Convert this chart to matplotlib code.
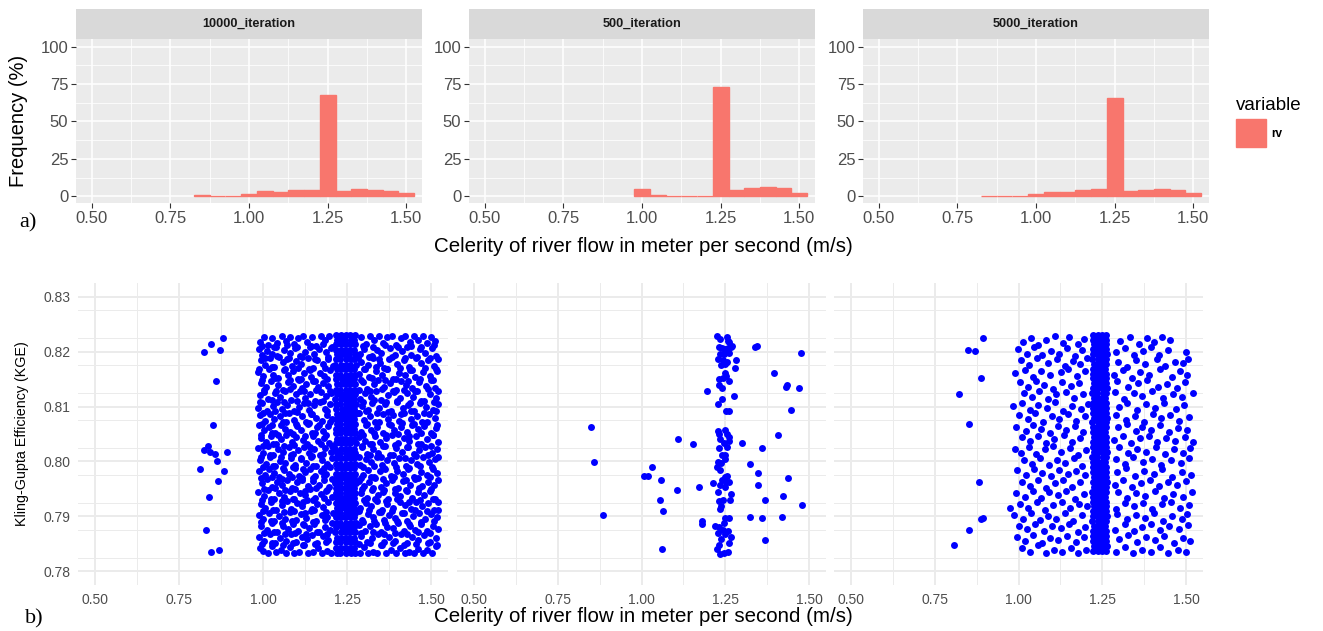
import matplotlib as mpl
import matplotlib.pyplot as plt
from matplotlib.patches import Patch

mpl.rcParams['font.family'] = ['Liberation Sans', 'DejaVu Sans']

# ------------------------------------------------------------------ #
# a) frequency (%) of celerity values per 0.05 m/s bin
bin_mid = [0.85, 0.90, 0.95, 1.00, 1.05, 1.10, 1.15, 1.20, 1.25, 1.30, 1.35, 1.40, 1.45, 1.50]
freq_10000 = [0.6, 0.3, 0.4, 1.4, 3.3, 3.0, 4.0, 4.4, 68.0, 3.3, 4.6, 4.0, 3.3, 2.0]
freq_500 = [0.0, 0.0, 0.0, 4.6, 1.1, 0.4, 0.4, 0.4, 73.0, 4.2, 5.3, 6.0, 5.3, 2.2]
freq_5000 = [0.5, 0.3, 0.4, 1.7, 3.1, 3.0, 4.0, 4.6, 66.0, 3.5, 4.2, 5.1, 4.0, 2.4]
facets = ['10000_iteration', '500_iteration', '5000_iteration']

# ------------------------------------------------------------------ #
# b) celerity (m/s) vs KGE for accepted runs

# 500 iterations: (celerity, KGE)
kge_500 = [
    (1.226, .8228), (1.233, .8223), (1.255, .8226), (1.258, .8220), (1.262, .8217), (1.270, .8211),
    (1.230, .8208), (1.240, .8207), (1.250, .8204), (1.258, .8206), (1.268, .8209), (1.233, .8196),
    (1.245, .8195), (1.260, .8197), (1.228, .8187), (1.243, .8184), (1.255, .8181), (1.282, .8184),
    (1.238, .8175), (1.250, .8177), (1.280, .8171), (1.248, .8162), (1.230, .8151), (1.242, .8152),
    (1.252, .8155), (1.262, .8146), (1.230, .8140), (1.240, .8133), (1.277, .8120), (1.240, .8113),
    (1.228, .8105), (1.252, .8091), (1.262, .8092), (1.195, .8128), (1.337, .8208), (1.345, .8211),
    (1.476, .8198), (1.395, .8161), (1.430, .8136), (1.435, .8139), (1.470, .8133), (1.445, .8094),
    (0.850, .8062), (0.858, .7999), (0.886, .7903), (1.110, .8040), (1.154, .8032), (1.032, .7990),
    (1.006, .7974), (1.018, .7974), (1.057, .7967), (1.107, .7948), (1.170, .7953), (1.054, .7929),
    (1.063, .7909), (1.062, .7841), (1.180, .7891), (1.180, .7886), (1.212, .7960),
    (1.228, .8056), (1.232, .8050), (1.250, .8057), (1.255, .8050), (1.260, .8045), (1.235, .8040),
    (1.262, .8038), (1.245, .8033), (1.230, .8025), (1.255, .8027), (1.240, .8012), (1.250, .8011),
    (1.228, .7999), (1.238, .7997), (1.248, .8004), (1.225, .7990), (1.233, .7984), (1.248, .7972),
    (1.255, .7974), (1.240, .7966), (1.252, .7963), (1.262, .7963), (1.235, .7958), (1.248, .7954),
    (1.228, .7945), (1.266, .7941), (1.242, .7930), (1.232, .7928), (1.265, .7930), (1.238, .7918),
    (1.233, .7913), (1.250, .7897), (1.262, .7897), (1.245, .7888), (1.218, .7883), (1.230, .7880),
    (1.242, .7876), (1.258, .7874), (1.228, .7870), (1.250, .7867), (1.266, .7863), (1.238, .7859),
    (1.260, .7851), (1.230, .7848), (1.226, .7841), (1.245, .7834), (1.258, .7836), (1.235, .7832),
    (1.300, .8034), (1.358, .8025), (1.406, .8048), (1.323, .7995), (1.346, .7979), (1.347, .7957),
    (1.438, .7970), (1.422, .7937), (1.368, .7930), (1.477, .7920), (1.322, .7898), (1.360, .7897),
    (1.420, .7898), (1.367, .7857),
]

# 10000 iterations: outliers left of the main cloud
kge_10000_low = [
    (0.881, .8224), (0.844, .8214), (0.825, .8199), (0.871, .8203), (0.861, .8147), (0.851, .8067),
    (0.837, .8029), (0.824, .8021), (0.842, .8018), (0.858, .8013), (0.894, .8017), (0.864, .8001),
    (0.812, .7987), (0.883, .7982), (0.866, .7964), (0.839, .7936), (0.830, .7876), (0.844, .7836),
    (0.868, .7838),
]

# 10000 iterations: main cloud (outside the 1.25 column)
kge_10000_cloud = [
    (0.992, .8218), (1.003, .8226), (1.015, .8212), (1.028, .8224), (1.041, .8215), (1.055, .8229), (1.067, .8219),
    (1.079, .8227), (1.092, .8213), (1.104, .8225), (1.118, .8228), (1.131, .8217), (1.146, .8226), (1.158, .8211),
    (1.171, .8229), (1.184, .8222), (1.197, .8228), (1.292, .8227), (1.305, .8214), (1.318, .8229), (1.331, .8221),
    (1.344, .8228), (1.357, .8216), (1.370, .8226), (1.384, .8229), (1.396, .8212), (1.409, .8224), (1.423, .8228),
    (1.436, .8218), (1.449, .8229), (1.462, .8222), (1.475, .8228), (1.488, .8215), (1.500, .8227), (1.512, .8220),
    (0.988, .8205), (0.997, .8193), (1.012, .8201), (1.026, .8196), (1.038, .8208), (1.049, .8191), (1.063, .8203),
    (1.081, .8197), (1.095, .8206), (1.109, .8192), (1.124, .8200), (1.139, .8209), (1.152, .8195), (1.166, .8204),
    (1.188, .8199), (1.201, .8207), (1.287, .8196), (1.299, .8205), (1.323, .8192), (1.339, .8203), (1.352, .8198),
    (1.377, .8207), (1.392, .8194), (1.414, .8201), (1.429, .8209), (1.441, .8193), (1.466, .8204), (1.481, .8197),
    (1.503, .8206), (1.515, .8192),
    (0.995, .8184), (1.007, .8176), (1.021, .8188), (1.034, .8172), (1.058, .8181), (1.071, .8187), (1.086, .8174),
    (1.099, .8183), (1.113, .8178), (1.135, .8189), (1.148, .8171), (1.162, .8185), (1.177, .8177), (1.193, .8186),
    (1.207, .8173), (1.291, .8182), (1.311, .8175), (1.327, .8188), (1.348, .8179), (1.361, .8171), (1.375, .8186),
    (1.398, .8177), (1.418, .8184), (1.433, .8172), (1.455, .8188), (1.471, .8179), (1.492, .8185), (1.508, .8174),
    (0.986, .8163), (1.001, .8155), (1.018, .8168), (1.031, .8158), (1.044, .8152), (1.061, .8166), (1.075, .8157),
    (1.090, .8164), (1.103, .8151), (1.121, .8161), (1.137, .8169), (1.144, .8154), (1.169, .8162), (1.182, .8156),
    (1.199, .8167), (1.284, .8159), (1.302, .8168), (1.316, .8153), (1.335, .8164), (1.354, .8157), (1.368, .8169),
    (1.386, .8151), (1.403, .8162), (1.421, .8158), (1.438, .8167), (1.452, .8153), (1.477, .8163), (1.495, .8156),
    (1.517, .8165),
    (0.993, .8142), (1.010, .8136), (1.024, .8147), (1.046, .8139), (1.059, .8131), (1.073, .8145), (1.088, .8137),
    (1.106, .8148), (1.117, .8133), (1.129, .8141), (1.150, .8146), (1.164, .8135), (1.179, .8143), (1.194, .8138),
    (1.296, .8144), (1.308, .8132), (1.329, .8141), (1.342, .8149), (1.359, .8136), (1.379, .8143), (1.394, .8131),
    (1.411, .8147), (1.426, .8139), (1.444, .8134), (1.463, .8145), (1.484, .8138), (1.499, .8149), (1.511, .8133),
    (0.990, .8121), (1.004, .8127), (1.016, .8113), (1.036, .8124), (1.052, .8118), (1.066, .8129), (1.083, .8112),
    (1.097, .8122), (1.111, .8128), (1.126, .8116), (1.141, .8123), (1.155, .8111), (1.173, .8126), (1.186, .8119),
    (1.203, .8125), (1.289, .8114), (1.304, .8124), (1.321, .8118), (1.337, .8129), (1.350, .8112), (1.372, .8121),
    (1.389, .8127), (1.407, .8115), (1.428, .8124), (1.446, .8117), (1.459, .8128), (1.479, .8111), (1.497, .8122),
    (1.514, .8116),
    (0.984, .8098), (0.998, .8106), (1.013, .8092), (1.029, .8101), (1.042, .8108), (1.057, .8095), (1.070, .8103),
    (1.093, .8091), (1.108, .8099), (1.122, .8107), (1.138, .8094), (1.151, .8102), (1.168, .8109), (1.183, .8096),
    (1.198, .8104), (1.294, .8101), (1.313, .8093), (1.325, .8107), (1.346, .8098), (1.362, .8104), (1.381, .8092),
    (1.399, .8109), (1.416, .8097), (1.431, .8103), (1.449, .8091), (1.468, .8106), (1.486, .8099), (1.504, .8094),
    (1.519, .8105),
    (0.991, .8084), (1.006, .8073), (1.020, .8087), (1.033, .8078), (1.050, .8082), (1.068, .8071), (1.078, .8088),
    (1.091, .8076), (1.115, .8083), (1.128, .8072), (1.143, .8086), (1.159, .8079), (1.174, .8074), (1.190, .8085),
    (1.206, .8077), (1.283, .8088), (1.300, .8075), (1.319, .8082), (1.333, .8071), (1.356, .8086), (1.371, .8078),
    (1.385, .8084), (1.404, .8073), (1.420, .8089), (1.440, .8077), (1.457, .8083), (1.473, .8072), (1.493, .8087),
    (1.510, .8079),
    (0.987, .8066), (1.002, .8058), (1.017, .8063), (1.037, .8052), (1.054, .8067), (1.064, .8059), (1.080, .8054),
    (1.101, .8064), (1.114, .8057), (1.133, .8068), (1.147, .8051), (1.160, .8062), (1.178, .8056), (1.192, .8065),
    (1.290, .8053), (1.306, .8066), (1.322, .8058), (1.340, .8063), (1.358, .8051), (1.374, .8069), (1.390, .8057),
    (1.410, .8062), (1.427, .8054), (1.443, .8067), (1.461, .8059), (1.480, .8064), (1.498, .8052), (1.513, .8061),
    (0.994, .8043), (1.009, .8036), (1.025, .8047), (1.039, .8031), (1.053, .8041), (1.069, .8048), (1.085, .8035),
    (1.098, .8044), (1.119, .8039), (1.132, .8032), (1.149, .8046), (1.163, .8037), (1.180, .8042), (1.196, .8033),
    (1.286, .8045), (1.303, .8038), (1.317, .8031), (1.334, .8047), (1.349, .8036), (1.366, .8042), (1.383, .8049),
    (1.401, .8034), (1.419, .8043), (1.435, .8037), (1.454, .8046), (1.470, .8032), (1.489, .8041), (1.506, .8048),
    (1.520, .8035),
    (0.985, .8024), (0.999, .8016), (1.014, .8028), (1.030, .8012), (1.045, .8022), (1.060, .8017), (1.076, .8026),
    (1.089, .8013), (1.105, .8021), (1.123, .8027), (1.136, .8015), (1.153, .8023), (1.170, .8011), (1.185, .8025),
    (1.202, .8018), (1.293, .8027), (1.310, .8014), (1.326, .8022), (1.343, .8016), (1.363, .8028), (1.378, .8012),
    (1.395, .8024), (1.413, .8018), (1.430, .8026), (1.448, .8013), (1.465, .8021), (1.483, .8027), (1.501, .8015),
    (1.516, .8023),
    (0.992, .8003), (1.008, .7995), (1.022, .8008), (1.035, .7991), (1.051, .8001), (1.065, .7997), (1.082, .8006),
    (1.096, .7993), (1.112, .8004), (1.127, .7998), (1.142, .8009), (1.157, .7992), (1.175, .8002), (1.189, .7996),
    (1.204, .8007), (1.288, .7994), (1.307, .8005), (1.320, .7999), (1.338, .8008), (1.353, .7993), (1.369, .8003),
    (1.388, .7997), (1.405, .8006), (1.424, .7991), (1.439, .8002), (1.458, .7995), (1.476, .8008), (1.494, .7999),
    (1.511, .8004),
    (0.989, .7982), (1.005, .7975), (1.019, .7987), (1.032, .7979), (1.048, .7972), (1.062, .7984), (1.077, .7977),
    (1.094, .7988), (1.107, .7973), (1.125, .7981), (1.140, .7986), (1.156, .7974), (1.172, .7983), (1.187, .7978),
    (1.200, .7989), (1.297, .7976), (1.312, .7985), (1.330, .7971), (1.347, .7982), (1.364, .7987), (1.380, .7974),
    (1.397, .7983), (1.415, .7978), (1.434, .7988), (1.450, .7972), (1.469, .7981), (1.487, .7976), (1.505, .7986),
    (1.518, .7979),
    (0.996, .7961), (1.011, .7968), (1.027, .7954), (1.043, .7963), (1.056, .7957), (1.072, .7966), (1.087, .7952),
    (1.102, .7962), (1.116, .7969), (1.134, .7955), (1.148, .7964), (1.165, .7958), (1.181, .7967), (1.195, .7953),
    (1.285, .7965), (1.301, .7956), (1.315, .7962), (1.332, .7969), (1.351, .7954), (1.367, .7961), (1.384, .7967),
    (1.400, .7952), (1.417, .7964), (1.437, .7957), (1.453, .7968), (1.472, .7955), (1.490, .7963), (1.507, .7958),
    (1.521, .7966),
    (0.986, .7944), (1.003, .7937), (1.016, .7948), (1.034, .7932), (1.047, .7942), (1.063, .7936), (1.079, .7947),
    (1.092, .7931), (1.110, .7943), (1.124, .7938), (1.139, .7949), (1.154, .7933), (1.171, .7941), (1.186, .7946),
    (1.205, .7935), (1.292, .7943), (1.309, .7934), (1.324, .7948), (1.341, .7939), (1.357, .7945), (1.373, .7931),
    (1.391, .7942), (1.408, .7937), (1.425, .7948), (1.442, .7933), (1.460, .7944), (1.478, .7938), (1.496, .7947),
    (1.512, .7932),
    (0.993, .7923), (1.007, .7916), (1.023, .7927), (1.040, .7912), (1.055, .7921), (1.070, .7928), (1.084, .7914),
    (1.100, .7924), (1.117, .7918), (1.131, .7929), (1.145, .7913), (1.161, .7922), (1.177, .7917), (1.193, .7926),
    (1.289, .7915), (1.305, .7925), (1.321, .7919), (1.339, .7928), (1.355, .7912), (1.370, .7923), (1.387, .7916),
    (1.406, .7927), (1.422, .7921), (1.440, .7914), (1.456, .7926), (1.474, .7918), (1.491, .7924), (1.509, .7911),
    (1.519, .7927),
    (0.988, .7902), (1.000, .7895), (1.018, .7907), (1.033, .7891), (1.049, .7901), (1.066, .7896), (1.080, .7908),
    (1.097, .7893), (1.113, .7904), (1.128, .7897), (1.144, .7909), (1.158, .7892), (1.176, .7903), (1.191, .7898),
    (1.207, .7906), (1.295, .7894), (1.311, .7905), (1.328, .7899), (1.345, .7908), (1.361, .7893), (1.376, .7903),
    (1.393, .7897), (1.412, .7906), (1.429, .7892), (1.447, .7901), (1.464, .7907), (1.482, .7895), (1.500, .7904),
    (1.516, .7898),
    (0.995, .7883), (1.012, .7876), (1.026, .7888), (1.041, .7872), (1.058, .7882), (1.073, .7877), (1.090, .7886),
    (1.104, .7873), (1.121, .7884), (1.137, .7879), (1.151, .7887), (1.167, .7871), (1.183, .7881), (1.198, .7876),
    (1.286, .7885), (1.303, .7874), (1.318, .7882), (1.336, .7887), (1.352, .7872), (1.368, .7881), (1.386, .7878),
    (1.402, .7888), (1.419, .7873), (1.436, .7883), (1.452, .7876), (1.470, .7887), (1.488, .7874), (1.504, .7882),
    (1.520, .7877),
    (0.987, .7862), (1.004, .7855), (1.020, .7867), (1.036, .7851), (1.052, .7861), (1.068, .7856), (1.083, .7868),
    (1.099, .7853), (1.115, .7863), (1.130, .7858), (1.146, .7866), (1.162, .7852), (1.179, .7864), (1.194, .7857),
    (1.291, .7865), (1.308, .7854), (1.325, .7861), (1.343, .7868), (1.359, .7853), (1.375, .7863), (1.392, .7856),
    (1.409, .7867), (1.427, .7852), (1.444, .7862), (1.462, .7857), (1.479, .7866), (1.497, .7853), (1.513, .7861),
    (0.991, .7843), (1.001, .7837), (1.014, .7834), (1.028, .7846), (1.039, .7835), (1.054, .7838), (1.067, .7833),
    (1.081, .7844), (1.093, .7834), (1.107, .7836), (1.120, .7848), (1.134, .7833), (1.148, .7835), (1.163, .7842),
    (1.176, .7834), (1.190, .7837), (1.203, .7833), (1.288, .7834), (1.299, .7845), (1.313, .7833), (1.327, .7836),
    (1.340, .7834), (1.353, .7847), (1.366, .7833), (1.380, .7838), (1.394, .7834), (1.407, .7843), (1.421, .7833),
    (1.434, .7836), (1.448, .7834), (1.461, .7841), (1.475, .7833), (1.489, .7838), (1.502, .7834), (1.515, .7846),
]

# 10000 iterations: further runs in the main cloud
kge_10000_cloud2 = [
    (0.996, .8211), (1.033, .8209), (1.072, .8212), (1.100, .8208), (1.142, .8210), (1.177, .8213), (1.205, .8209),
    (1.296, .8211), (1.327, .8208), (1.364, .8212), (1.402, .8209), (1.440, .8211), (1.470, .8208), (1.507, .8212),
    (1.005, .8189), (1.043, .8192), (1.076, .8188), (1.116, .8190), (1.156, .8187), (1.193, .8191), (1.283, .8188),
    (1.316, .8191), (1.345, .8187), (1.384, .8190), (1.423, .8188), (1.459, .8191), (1.497, .8189), (1.519, .8187),
    (0.989, .8169), (1.027, .8172), (1.064, .8168), (1.105, .8171), (1.141, .8167), (1.184, .8170), (1.301, .8169),
    (1.336, .8172), (1.370, .8168), (1.406, .8171), (1.444, .8167), (1.483, .8170), (1.514, .8169),
    (0.998, .8149), (1.036, .8152), (1.081, .8148), (1.112, .8150), (1.156, .8147), (1.190, .8151), (1.292, .8149),
    (1.325, .8152), (1.362, .8148), (1.395, .8150), (1.431, .8147), (1.468, .8151), (1.506, .8148),
    (1.002, .8131), (1.040, .8128), (1.079, .8132), (1.122, .8129), (1.158, .8131), (1.200, .8128), (1.286, .8131),
    (1.318, .8128), (1.354, .8132), (1.385, .8129), (1.419, .8131), (1.453, .8128), (1.490, .8132), (1.520, .8129),
    (0.992, .8109), (1.026, .8112), (1.061, .8108), (1.102, .8111), (1.134, .8107), (1.178, .8110), (1.296, .8109),
    (1.330, .8112), (1.366, .8108), (1.398, .8111), (1.437, .8107), (1.471, .8110), (1.508, .8109),
    (1.000, .8089), (1.036, .8092), (1.065, .8088), (1.100, .8090), (1.145, .8087), (1.190, .8091), (1.285, .8089),
    (1.307, .8092), (1.338, .8088), (1.372, .8090), (1.409, .8087), (1.441, .8091), (1.478, .8089), (1.513, .8092),
    (0.997, .8069), (1.028, .8067), (1.059, .8072), (1.097, .8068), (1.137, .8070), (1.166, .8067), (1.198, .8071),
    (1.310, .8068), (1.345, .8071), (1.380, .8067), (1.414, .8070), (1.448, .8068), (1.487, .8071), (1.518, .8067),
    (0.993, .8049), (1.027, .8052), (1.045, .8048), (1.090, .8050), (1.124, .8047), (1.155, .8051), (1.186, .8048),
    (1.298, .8049), (1.330, .8052), (1.366, .8048), (1.400, .8050), (1.435, .8047), (1.470, .8051), (1.505, .8049),
    (1.001, .8029), (1.031, .8032), (1.061, .8028), (1.092, .8030), (1.140, .8027), (1.171, .8031), (1.204, .8028),
    (1.294, .8029), (1.325, .8032), (1.358, .8028), (1.392, .8030), (1.427, .8027), (1.462, .8031), (1.498, .8029),
    (0.995, .8009), (1.022, .8012), (1.053, .8008), (1.083, .8011), (1.114, .8007), (1.145, .8010), (1.178, .8013),
    (1.284, .8009), (1.318, .8012), (1.352, .8008), (1.386, .8011), (1.421, .8007), (1.456, .8010), (1.491, .8012),
    (1.521, .8008),
    (1.000, .7989), (1.029, .7992), (1.058, .7988), (1.089, .7990), (1.119, .7987), (1.150, .7991), (1.182, .7988),
    (1.297, .7989), (1.329, .7992), (1.361, .7988), (1.396, .7990), (1.431, .7987), (1.467, .7991), (1.503, .7989),
    (0.994, .7969), (1.026, .7972), (1.055, .7968), (1.085, .7971), (1.116, .7967), (1.148, .7970), (1.180, .7973),
    (1.206, .7968), (1.290, .7969), (1.322, .7972), (1.356, .7968), (1.390, .7971), (1.425, .7967), (1.460, .7970),
    (1.497, .7972),
    (1.003, .7949), (1.035, .7952), (1.064, .7948), (1.094, .7950), (1.125, .7947), (1.157, .7951), (1.189, .7948),
    (1.294, .7949), (1.327, .7952), (1.360, .7948), (1.393, .7950), (1.429, .7947), (1.463, .7951), (1.500, .7949),
    (0.997, .7929), (1.025, .7932), (1.056, .7928), (1.088, .7931), (1.120, .7927), (1.150, .7930), (1.182, .7933),
    (1.300, .7929), (1.333, .7932), (1.365, .7928), (1.399, .7931), (1.433, .7927), (1.468, .7930), (1.505, .7932),
    (1.001, .7909), (1.031, .7912), (1.062, .7908), (1.092, .7910), (1.124, .7907), (1.153, .7911), (1.186, .7908),
    (1.284, .7909), (1.316, .7912), (1.350, .7908), (1.383, .7910), (1.418, .7907), (1.452, .7911), (1.488, .7909),
    (1.521, .7912),
    (0.994, .7889), (1.023, .7892), (1.055, .7888), (1.086, .7891), (1.118, .7887), (1.149, .7890), (1.183, .7893),
    (1.204, .7888), (1.298, .7889), (1.331, .7892), (1.364, .7888), (1.398, .7891), (1.433, .7887), (1.469, .7890),
    (1.508, .7892),
    (1.004, .7869), (1.033, .7872), (1.065, .7868), (1.096, .7870), (1.129, .7867), (1.160, .7871), (1.191, .7868),
    (1.292, .7869), (1.326, .7872), (1.360, .7868), (1.393, .7870), (1.428, .7867), (1.461, .7871), (1.496, .7869),
    (0.998, .7849), (1.028, .7852), (1.060, .7848), (1.090, .7851), (1.123, .7847), (1.154, .7850), (1.186, .7853),
    (1.284, .7849), (1.317, .7852), (1.350, .7848), (1.385, .7851), (1.419, .7847), (1.455, .7850), (1.490, .7852),
    (1.518, .7848),
]

# 10000 iterations: solid column around 1.25 m/s, rows of (KGE, celerity...)
kge_10000_band = [
    (.8230, 1.217, 1.232, 1.246, 1.259, 1.273), (.8221, 1.219, 1.230, 1.244, 1.261, 1.271),
    (.8213, 1.216, 1.233, 1.247, 1.258, 1.274), (.8203, 1.218, 1.231, 1.245, 1.260, 1.272),
    (.8195, 1.220, 1.234, 1.243, 1.257, 1.273), (.8186, 1.217, 1.229, 1.246, 1.262, 1.270),
    (.8176, 1.215, 1.232, 1.248, 1.259, 1.275), (.8168, 1.219, 1.233, 1.244, 1.258, 1.272),
    (.8158, 1.218, 1.230, 1.247, 1.261, 1.273), (.8150, 1.216, 1.234, 1.245, 1.259, 1.271),
    (.8141, 1.220, 1.231, 1.243, 1.260, 1.274), (.8131, 1.217, 1.229, 1.246, 1.257, 1.272),
    (.8123, 1.219, 1.233, 1.248, 1.262, 1.273), (.8113, 1.215, 1.232, 1.244, 1.258, 1.270),
    (.8105, 1.218, 1.230, 1.247, 1.261, 1.275), (.8096, 1.216, 1.234, 1.245, 1.259, 1.272),
    (.8086, 1.220, 1.231, 1.243, 1.260, 1.273), (.8078, 1.217, 1.233, 1.246, 1.257, 1.271),
    (.8068, 1.219, 1.229, 1.248, 1.262, 1.274), (.8060, 1.218, 1.232, 1.244, 1.258, 1.272),
    (.8051, 1.216, 1.230, 1.247, 1.261, 1.273), (.8041, 1.220, 1.234, 1.245, 1.259, 1.270),
    (.8033, 1.217, 1.231, 1.243, 1.260, 1.275), (.8023, 1.215, 1.233, 1.246, 1.257, 1.272),
    (.8015, 1.219, 1.229, 1.248, 1.262, 1.273), (.8006, 1.218, 1.232, 1.244, 1.258, 1.271),
    (.7996, 1.216, 1.230, 1.247, 1.261, 1.274), (.7988, 1.220, 1.234, 1.245, 1.259, 1.272),
    (.7978, 1.217, 1.231, 1.243, 1.260, 1.273), (.7970, 1.219, 1.233, 1.246, 1.257, 1.270),
    (.7961, 1.215, 1.229, 1.248, 1.262, 1.275), (.7951, 1.218, 1.232, 1.244, 1.258, 1.272),
    (.7943, 1.216, 1.230, 1.247, 1.261, 1.273), (.7933, 1.220, 1.234, 1.245, 1.259, 1.271),
    (.7925, 1.217, 1.231, 1.243, 1.260, 1.274), (.7916, 1.219, 1.233, 1.246, 1.257, 1.272),
    (.7906, 1.218, 1.229, 1.248, 1.262, 1.273), (.7898, 1.216, 1.232, 1.244, 1.258, 1.270),
    (.7888, 1.220, 1.230, 1.247, 1.261, 1.275), (.7880, 1.217, 1.234, 1.245, 1.259, 1.272),
    (.7871, 1.215, 1.231, 1.243, 1.260, 1.273), (.7861, 1.219, 1.233, 1.246, 1.257, 1.271),
    (.7853, 1.218, 1.229, 1.248, 1.262, 1.274), (.7843, 1.216, 1.232, 1.244, 1.258, 1.272),
    (.7834, 1.220, 1.230, 1.247, 1.261, 1.273),
]

# 5000 iterations: outliers left of the main cloud
kge_5000_low = [
    (0.893, .8224), (0.848, .8203), (0.871, .8202), (0.887, .8152), (0.823, .8123), (0.853, .8068),
    (0.883, .7962), (0.975, .7916), (0.893, .7897), (0.889, .7896), (0.853, .7876), (0.808, .7848),
]

# 5000 iterations: main cloud (outside the 1.25 column)
kge_5000_cloud = [
    (1.012, .8218), (1.036, .8225), (1.058, .8212), (1.081, .8221), (1.110, .8228), (1.133, .8216), (1.152, .8227),
    (1.176, .8214), (1.196, .8223), (1.304, .8219), (1.331, .8226), (1.359, .8213), (1.382, .8224), (1.405, .8217),
    (1.428, .8227), (1.452, .8221),
    (0.998, .8204), (1.025, .8196), (1.047, .8208), (1.069, .8193), (1.098, .8201), (1.121, .8195), (1.145, .8207),
    (1.168, .8192), (1.189, .8203), (1.291, .8199), (1.318, .8206), (1.345, .8193), (1.371, .8202), (1.396, .8208),
    (1.420, .8194), (1.447, .8203), (1.498, .8200),
    (1.008, .8184), (1.031, .8176), (1.054, .8188), (1.087, .8179), (1.115, .8186), (1.139, .8173), (1.162, .8183),
    (1.184, .8177), (1.203, .8188), (1.297, .8181), (1.322, .8172), (1.351, .8185), (1.376, .8178), (1.412, .8187),
    (1.438, .8174), (1.466, .8182), (1.490, .8179), (1.505, .8186),
    (0.991, .8162), (1.018, .8167), (1.042, .8154), (1.066, .8165), (1.093, .8157), (1.126, .8163), (1.149, .8169),
    (1.173, .8155), (1.198, .8164), (1.285, .8158), (1.312, .8166), (1.338, .8152), (1.363, .8163), (1.390, .8157),
    (1.423, .8168), (1.458, .8154), (1.482, .8164), (1.501, .8158),
    (1.004, .8144), (1.027, .8136), (1.051, .8147), (1.076, .8139), (1.104, .8132), (1.130, .8145), (1.157, .8138),
    (1.181, .8143), (1.294, .8147), (1.327, .8135), (1.355, .8142), (1.384, .8148), (1.416, .8136), (1.443, .8141),
    (1.472, .8133), (1.496, .8145),
    (1.015, .8124), (1.039, .8118), (1.062, .8128), (1.089, .8113), (1.112, .8123), (1.141, .8127), (1.166, .8116),
    (1.192, .8122), (1.288, .8126), (1.315, .8114), (1.343, .8124), (1.369, .8119), (1.398, .8128), (1.431, .8115),
    (1.462, .8122), (1.487, .8117), (1.519, .8125),
    (0.985, .8101), (1.009, .8106), (1.034, .8094), (1.057, .8103), (1.084, .8097), (1.108, .8108), (1.134, .8092),
    (1.159, .8101), (1.186, .8096), (1.206, .8105), (1.301, .8099), (1.324, .8107), (1.352, .8093), (1.379, .8104),
    (1.407, .8098), (1.434, .8106), (1.469, .8095), (1.493, .8102),
    (1.002, .8084), (1.028, .8077), (1.049, .8088), (1.073, .8072), (1.099, .8083), (1.122, .8078), (1.148, .8086),
    (1.171, .8074), (1.197, .8082), (1.292, .8085), (1.319, .8076), (1.347, .8083), (1.373, .8071), (1.401, .8087),
    (1.426, .8079), (1.451, .8084), (1.478, .8073), (1.509, .8081),
    (0.994, .8063), (1.021, .8056), (1.044, .8067), (1.068, .8059), (1.095, .8052), (1.118, .8065), (1.143, .8058),
    (1.169, .8064), (1.193, .8054), (1.296, .8062), (1.322, .8068), (1.349, .8055), (1.367, .8063), (1.394, .8058),
    (1.421, .8066), (1.448, .8053), (1.474, .8061), (1.502, .8057),
    (1.011, .8044), (1.035, .8037), (1.059, .8046), (1.083, .8033), (1.107, .8041), (1.136, .8048), (1.160, .8035),
    (1.183, .8043), (1.286, .8039), (1.311, .8046), (1.336, .8034), (1.362, .8042), (1.388, .8047), (1.413, .8036),
    (1.441, .8043), (1.466, .8038), (1.495, .8045), (1.520, .8036),
    (0.989, .8023), (1.006, .8016), (1.030, .8027), (1.053, .8014), (1.079, .8022), (1.103, .8028), (1.127, .8017),
    (1.154, .8024), (1.178, .8012), (1.201, .8021), (1.299, .8026), (1.326, .8015), (1.353, .8023), (1.380, .8018),
    (1.409, .8027), (1.436, .8013), (1.463, .8022), (1.491, .8016), (1.512, .8025),
    (1.016, .8003), (1.041, .7996), (1.065, .8007), (1.091, .7993), (1.114, .8002), (1.139, .7997), (1.165, .8006),
    (1.188, .7992), (1.290, .8004), (1.316, .7995), (1.342, .8008), (1.370, .7999), (1.397, .8005), (1.425, .7993),
    (1.455, .8002), (1.484, .7997), (1.507, .8006),
    (0.996, .7984), (1.022, .7976), (1.046, .7987), (1.071, .7979), (1.097, .7973), (1.121, .7985), (1.147, .7978),
    (1.172, .7983), (1.199, .7975), (1.293, .7981), (1.321, .7988), (1.348, .7974), (1.375, .7982), (1.403, .7977),
    (1.429, .7986), (1.458, .7972), (1.486, .7981), (1.514, .7976),
    (1.009, .7963), (1.033, .7956), (1.057, .7967), (1.082, .7952), (1.109, .7961), (1.133, .7966), (1.158, .7954),
    (1.184, .7962), (1.287, .7958), (1.313, .7967), (1.339, .7953), (1.366, .7961), (1.392, .7966), (1.419, .7955),
    (1.446, .7963), (1.473, .7957), (1.500, .7965),
    (0.992, .7942), (1.018, .7936), (1.043, .7947), (1.066, .7933), (1.092, .7944), (1.117, .7938), (1.141, .7946),
    (1.167, .7932), (1.194, .7941), (1.298, .7945), (1.324, .7934), (1.351, .7942), (1.378, .7937), (1.406, .7947),
    (1.433, .7933), (1.461, .7941), (1.489, .7936), (1.516, .7944),
    (1.005, .7923), (1.029, .7916), (1.054, .7927), (1.078, .7912), (1.104, .7921), (1.129, .7927), (1.154, .7915),
    (1.180, .7922), (1.204, .7918), (1.291, .7914), (1.318, .7925), (1.345, .7918), (1.372, .7924), (1.399, .7913),
    (1.427, .7922), (1.454, .7927), (1.481, .7915), (1.508, .7921),
    (0.988, .7903), (1.014, .7896), (1.038, .7907), (1.063, .7893), (1.088, .7901), (1.112, .7896), (1.138, .7906),
    (1.163, .7892), (1.189, .7902), (1.295, .7904), (1.322, .7895), (1.349, .7903), (1.377, .7897), (1.404, .7906),
    (1.431, .7892), (1.459, .7901), (1.486, .7896), (1.503, .7905),
    (1.001, .7883), (1.026, .7877), (1.050, .7887), (1.075, .7874), (1.101, .7882), (1.126, .7878), (1.151, .7886),
    (1.176, .7872), (1.199, .7881), (1.289, .7876), (1.316, .7886), (1.343, .7873), (1.369, .7881), (1.396, .7887),
    (1.423, .7875), (1.450, .7882), (1.477, .7877), (1.505, .7885),
    (0.995, .7862), (1.019, .7855), (1.044, .7866), (1.069, .7852), (1.094, .7861), (1.119, .7857), (1.145, .7865),
    (1.170, .7853), (1.195, .7862), (1.299, .7858), (1.326, .7866), (1.353, .7854), (1.380, .7862), (1.408, .7857),
    (1.435, .7865), (1.463, .7852), (1.490, .7861), (1.512, .7856),
    (1.011, .7842), (1.034, .7836), (1.057, .7847), (1.081, .7834), (1.106, .7839), (1.131, .7835), (1.156, .7843),
    (1.178, .7834), (1.201, .7838), (1.292, .7836), (1.317, .7844), (1.342, .7834), (1.368, .7839), (1.394, .7835),
    (1.421, .7845), (1.447, .7834), (1.474, .7838), (1.500, .7835),
]

# 5000 iterations: solid column around 1.25 m/s, rows of (KGE, celerity...)
kge_5000_band = [
    (.8231, 1.223, 1.236, 1.249, 1.261), (.8222, 1.221, 1.237, 1.248, 1.262), (.8214, 1.224, 1.235, 1.250, 1.260),
    (.8205, 1.222, 1.238, 1.247, 1.261), (.8196, 1.223, 1.234, 1.249, 1.263), (.8187, 1.220, 1.236, 1.251, 1.260),
    (.8178, 1.224, 1.237, 1.248, 1.262), (.8169, 1.222, 1.235, 1.250, 1.259), (.8160, 1.221, 1.236, 1.249, 1.261),
    (.8152, 1.223, 1.238, 1.247, 1.262), (.8143, 1.225, 1.234, 1.250, 1.260), (.8133, 1.222, 1.237, 1.248, 1.263),
    (.8124, 1.220, 1.235, 1.251, 1.261), (.8115, 1.224, 1.236, 1.249, 1.259), (.8107, 1.223, 1.238, 1.248, 1.262),
    (.8098, 1.221, 1.234, 1.250, 1.260), (.8088, 1.222, 1.237, 1.247, 1.261), (.8080, 1.224, 1.235, 1.249, 1.263),
    (.8071, 1.220, 1.236, 1.251, 1.260), (.8062, 1.223, 1.238, 1.248, 1.262), (.8053, 1.222, 1.234, 1.250, 1.259),
    (.8044, 1.225, 1.237, 1.249, 1.261), (.8035, 1.221, 1.235, 1.247, 1.262), (.8026, 1.223, 1.236, 1.250, 1.260),
    (.8017, 1.224, 1.238, 1.248, 1.263), (.8008, 1.220, 1.234, 1.251, 1.261), (.7999, 1.222, 1.237, 1.249, 1.259),
    (.7990, 1.223, 1.235, 1.248, 1.262), (.7981, 1.221, 1.236, 1.250, 1.260), (.7972, 1.224, 1.238, 1.247, 1.261),
    (.7963, 1.222, 1.234, 1.249, 1.263), (.7954, 1.225, 1.237, 1.251, 1.260), (.7945, 1.220, 1.235, 1.248, 1.262),
    (.7936, 1.223, 1.236, 1.250, 1.259), (.7927, 1.222, 1.238, 1.249, 1.261), (.7918, 1.224, 1.234, 1.247, 1.262),
    (.7909, 1.221, 1.237, 1.250, 1.260), (.7900, 1.223, 1.235, 1.248, 1.263), (.7891, 1.220, 1.236, 1.251, 1.261),
    (.7882, 1.224, 1.238, 1.249, 1.259), (.7873, 1.222, 1.234, 1.248, 1.262), (.7864, 1.223, 1.237, 1.250, 1.260),
    (.7855, 1.221, 1.235, 1.247, 1.261), (.7846, 1.224, 1.236, 1.249, 1.263), (.7837, 1.222, 1.238, 1.250, 1.260),
]


def pairs_xy(pts):
    return [p[0] for p in pts], [p[1] for p in pts]


def band_xy(rows):
    xs, ys = [], []
    for y, *row_x in rows:
        xs += row_x
        ys += [y] * len(row_x)
    return xs, ys


def combine(*parts):
    xs, ys = [], []
    for x, y in parts:
        xs += x
        ys += y
    return xs, ys


scatter_sets = [
    combine(pairs_xy(kge_10000_low), pairs_xy(kge_10000_cloud), pairs_xy(kge_10000_cloud2),
            band_xy(kge_10000_band)),
    pairs_xy(kge_500),
    combine(pairs_xy(kge_5000_low), pairs_xy(kge_5000_cloud), band_xy(kge_5000_band)),
]

# ------------------------------------------------------------------ #
W, H = 1323, 631
fig = plt.figure(figsize=(W / 100, H / 100), dpi=100)


def px_axes(x0, y0, x1, y1):
    # place an axes by its pixel box (top-left origin)
    return fig.add_axes([x0 / W, 1 - y1 / H, (x1 - x0) / W, (y1 - y0) / H])


x_major = [0.5, 0.75, 1.0, 1.25, 1.5]
x_minor = [0.625, 0.875, 1.125, 1.375]
x_labels = ['0.50', '0.75', '1.00', '1.25', '1.50']
hist_col = '#F8766D'

# top row: histograms (ggplot grey theme)
for x0, name, freq in zip([76, 469, 863], facets, [freq_10000, freq_500, freq_5000]):
    strip = px_axes(x0, 9, x0 + 346, 39)
    strip.set_facecolor('#D9D9D9')
    strip.set_xticks([]); strip.set_yticks([])
    for s in strip.spines.values():
        s.set_visible(False)
    strip.text(0.5, 0.5, name, ha='center', va='center', fontsize=9.2,
               fontweight='bold', color='#1A1A1A', transform=strip.transAxes)

    ax = px_axes(x0, 39, x0 + 346, 203)
    ax.set_facecolor('#EBEBEB')
    keep = [i for i, f in enumerate(freq) if f > 0]
    ax.bar([bin_mid[i] for i in keep], [freq[i] for i in keep], width=0.05,
           color=hist_col, edgecolor=hist_col, linewidth=1.0, zorder=3)
    ax.set_xlim(0.45, 1.55)
    ax.set_ylim(-4.5, 105.1)
    ax.set_xticks(x_major); ax.set_xticklabels(x_labels)
    ax.set_xticks(x_minor, minor=True)
    ax.set_yticks([0, 25, 50, 75, 100])
    ax.set_yticks([12.5, 37.5, 62.5, 87.5], minor=True)
    ax.grid(which='major', color='white', linewidth=1.1)
    ax.grid(which='minor', color='white', linewidth=0.55)
    ax.set_axisbelow(True)
    ax.tick_params(which='major', length=3.5, width=0.8, color='#333333',
                   labelsize=12, labelcolor='#4D4D4D', pad=2)
    ax.tick_params(which='minor', length=0)
    for s in ax.spines.values():
        s.set_visible(False)

fig.text(19 / W, 1 - 121 / H, 'Frequency (%)', rotation=90, ha='center', va='center', fontsize=14.5)
fig.text(643 / W, 1 - 246 / H, 'Celerity of river flow in meter per second (m/s)',
         ha='center', va='center', fontsize=14.8)
fig.text(28 / W, 1 - 223 / H, 'a)', ha='center', va='center', fontsize=16, family='Liberation Serif')

leg = fig.legend(handles=[Patch(color=hist_col, label='rv')], title='variable',
                 loc='upper left', bbox_to_anchor=(1232 / W, 1 - 93 / H), frameon=False,
                 handlelength=2.6, handleheight=3.25, handletextpad=0.4,
                 prop={'size': 8.5, 'weight': 'bold'}, title_fontsize=13.5, alignment='left',
                 borderaxespad=0, borderpad=0.3)

# bottom row: scatter (minimal theme)
for i, ((x0, x1), (xs, ys)) in enumerate(zip([(78, 448), (457, 826), (834, 1203)], scatter_sets)):
    ax = px_axes(x0, 283, x1, 585)
    ax.scatter(xs, ys, s=25, color='#0000FF', linewidths=0, zorder=3)
    ax.set_xlim(0.45, 1.55)
    ax.set_ylim(0.7775, 0.8325)
    ax.set_xticks(x_major); ax.set_xticklabels(x_labels)
    ax.set_xticks(x_minor, minor=True)
    ax.set_yticks([0.78, 0.79, 0.80, 0.81, 0.82, 0.83])
    ax.set_yticklabels(['0.78', '0.79', '0.80', '0.81', '0.82', '0.83'])
    ax.set_yticks([0.7825, 0.7875, 0.7925, 0.7975, 0.8025, 0.8075, 0.8125, 0.8175, 0.8225, 0.8275], minor=True)
    ax.grid(which='major', color='#EBEBEB', linewidth=1.4)
    ax.grid(which='minor', color='#EBEBEB', linewidth=0.7)
    ax.set_axisbelow(True)
    ax.tick_params(which='both', length=0, labelsize=10, labelcolor='#4D4D4D', pad=5.5)
    if i > 0:
        ax.tick_params(labelleft=False)
    for s in ax.spines.values():
        s.set_visible(False)

fig.text(22 / W, 1 - 434 / H, 'Kling-Gupta Efficiency (KGE)', rotation=90, ha='center', va='center', fontsize=10.3)
fig.text(643 / W, 1 - 616 / H, 'Celerity of river flow in meter per second (m/s)',
         ha='center', va='center', fontsize=14.8)
fig.text(34 / W, 1 - 619 / H, 'b)', ha='center', va='center', fontsize=16, family='Liberation Serif')

fig.savefig('out.png', dpi=100, facecolor='w')
